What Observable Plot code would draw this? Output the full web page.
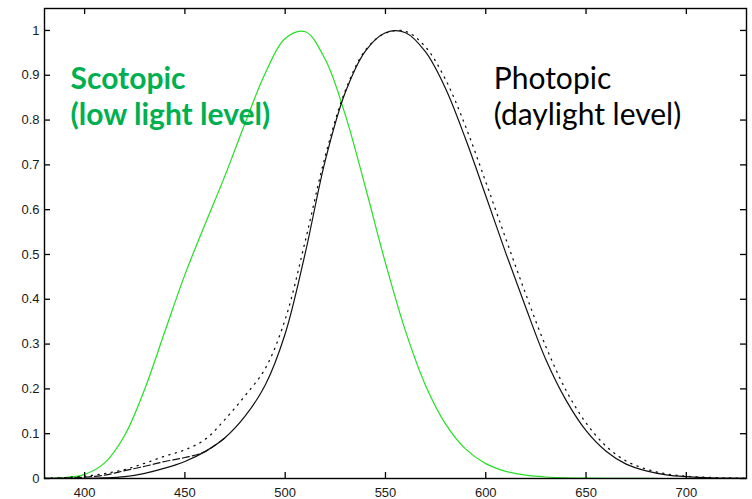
<!DOCTYPE html>
<html><head><meta charset="utf-8">
<script src="https://cdn.jsdelivr.net/npm/d3@7"></script>
<script src="https://cdn.jsdelivr.net/npm/@observablehq/plot@0.6"></script>
<style>body{margin:0;background:#fff}</style>
</head><body><div id="chart"></div>
<script>
const wavelengths = [380,390,400,410,420,430,440,450,460,470,480,490,500,510,520,530,540,550,560,570,580,590,600,610,620,630,640,650,660,670,680,690,700,710,720,730];
// CIE photopic (solid black)
const photopic = [0.000039,0.00012,0.000396,0.00121,0.004,0.0116,0.023,0.038,0.06,0.091,0.139,0.208,0.323,0.503,0.71,0.862,0.954,0.995,0.995,0.952,0.87,0.757,0.631,0.503,0.381,0.265,0.175,0.107,0.061,0.032,0.017,0.0082,0.0041,0.0021,0.001,0.0005];
// dotted black
const photopicDotted = [0.0008,0.002,0.005,0.011,0.02,0.034,0.05,0.064,0.087,0.132,0.185,0.245,0.355,0.53,0.72,0.866,0.956,0.994,0.998,0.963,0.89,0.785,0.662,0.535,0.411,0.294,0.197,0.124,0.072,0.039,0.021,0.0104,0.0051,0.0026,0.0013,0.0006];
// dashed black (short wavelengths)
const dashedWavelengths = [380,390,400,410,420,430,440,450,460,470];
const photopicDashed = [0.0002,0.0008,0.0028,0.0074,0.0175,0.0273,0.0379,0.0468,0.06,0.091];
// scotopic (green)
const scotopic = [0.000589,0.002209,0.00929,0.03484,0.0966,0.1998,0.3281,0.455,0.567,0.676,0.793,0.904,0.982,0.997,0.935,0.811,0.65,0.481,0.3288,0.2076,0.1212,0.0655,0.03315,0.01593,0.00737,0.003335,0.001497,0.000677,0.000313,0.000148,0.0000715,0.0000353,0.0000178,0.0000091,0.0000047,0.0000025];

const xTicks = [400,450,500,550,600,650,700];
const yTicks = [0,0.1,0.2,0.3,0.4,0.5,0.6,0.7,0.8,0.9,1];
const yTickLabels = ["0","0.1","0.2","0.3","0.4","0.5","0.6","0.7","0.8","0.9","1"];

const scotopicLabel = ["Scotopic\n(low light level)"];
const photopicLabel = ["Photopic\n(daylight level)"];
const scotopicLabelPos = [393, 0.79];
const photopicLabelPos = [604, 0.79];

const W = 752, H = 499;
const mL = 44, mR = 6, mT = 8, mB = 21;
const plotW = W - mL - mR, plotH = H - mT - mB;

const solid = wavelengths.map((w,i)=>({w, v: photopic[i]}));
const dotted = wavelengths.map((w,i)=>({w, v: photopicDotted[i]}));
const dashed = dashedWavelengths.map((w,i)=>({w, v: photopicDashed[i]}));
const scot = wavelengths.map((w,i)=>({w, v: scotopic[i]}));

const chart = Plot.plot({
  width: W, height: H,
  marginLeft: mL, marginRight: mR, marginTop: mT, marginBottom: mB,
  style: {fontFamily: "'Liberation Sans', Arial, sans-serif", background: "#fff", overflow: "visible"},
  x: {domain: [380, 730], label: null},
  y: {domain: [0, 1.049], label: null},
  marks: [
    Plot.line(scot, {x: "w", y: "v", stroke: "#22e022", strokeWidth: 1.2, curve: "catmull-rom"}),
    Plot.line(dotted, {x: "w", y: "v", stroke: "#111", strokeWidth: 1.3, strokeDasharray: "1.2,5.5", curve: "catmull-rom"}),
    Plot.line(dashed, {x: "w", y: "v", stroke: "#111", strokeWidth: 1.2, strokeDasharray: "7,3", curve: "catmull-rom"}),
    Plot.line(solid, {x: "w", y: "v", stroke: "#111", strokeWidth: 1.2, curve: "catmull-rom"}),
    Plot.frame({stroke: "#000", strokeWidth: 1.4}),
    Plot.tickX(xTicks, {x: d=>d, insetTop: plotH - 6, stroke: "#000", strokeWidth: 1.3}),
    Plot.tickX(xTicks, {x: d=>d, insetBottom: plotH - 6, stroke: "#000", strokeWidth: 1.3}),
    Plot.tickY(yTicks, {y: d=>d, insetRight: plotW - 6, stroke: "#000", strokeWidth: 1.3}),
    Plot.tickY(yTicks, {y: d=>d, insetLeft: plotW - 6, stroke: "#000", strokeWidth: 1.3}),
    Plot.axisX(xTicks, {tickSize: 0, tickPadding: 9, fontSize: 13, fill: "#1a1a1a", label: null}),
    Plot.axisY(yTicks, {tickSize: 0, tickPadding: 5, fontSize: 13, fill: "#1a1a1a", label: null, tickFormat: (d,i)=>yTickLabels[i]}),
    Plot.text(scotopicLabel, {x: [scotopicLabelPos[0]], y: [scotopicLabelPos[1]], text: d=>d, fill: "#00b050", fontWeight: "bold", textAnchor: "start", lineAnchor: "bottom", lineHeight: 1.2, fontSize: 30, fontFamily: "Lato, 'Open Sans', sans-serif"}),
    Plot.text(photopicLabel, {x: [photopicLabelPos[0]], y: [photopicLabelPos[1]], text: d=>d, fill: "#000", textAnchor: "start", lineAnchor: "bottom", lineHeight: 1.2, fontSize: 30, fontFamily: "Lato, 'Open Sans', sans-serif"})
  ]
});
document.getElementById("chart").appendChild(chart);
</script>
</body></html>
